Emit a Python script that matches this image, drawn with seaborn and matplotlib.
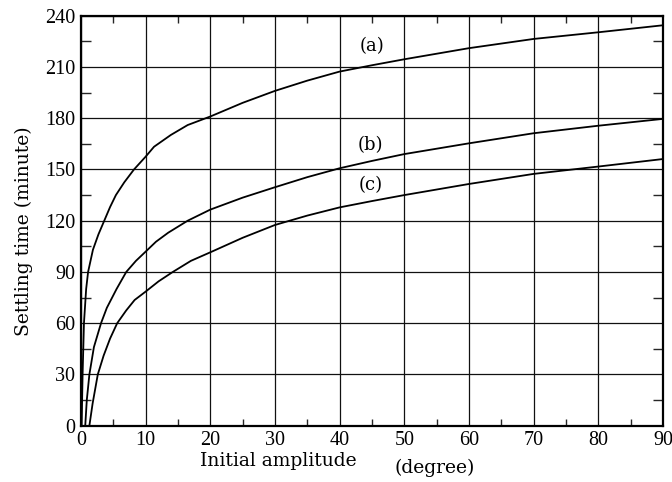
import pandas as pd
import seaborn as sns
import matplotlib.pyplot as plt
from matplotlib.ticker import MultipleLocator

# curve (a)
a_x = [0.1, 0.25, 0.46, 0.8, 1.1, 1.85, 2.7, 3.6, 4.5, 5.4, 6.7, 8.2, 10,
       11.3, 13.9, 16.5, 20, 25, 30, 35, 40, 45, 50, 60, 70, 80, 90]
a_y = [0, 30, 60, 80, 90, 103, 112, 120, 128, 135, 142.5, 150, 157.5,
       163.3, 170.2, 176, 181, 189, 196, 202, 207.3, 211, 214.5, 221, 226.4,
       230.3, 234.4]
# curve (b)
b_x = [0.66, 0.9, 1.3, 2, 3.1, 4, 5.5, 7, 8.5, 10, 11.6, 13.5, 16.5, 20, 25,
       30, 35, 40, 45, 50, 60, 70, 80, 90]
b_y = [0, 15, 30, 46, 60, 69, 80, 90, 96.5, 101.9, 107.7, 113, 120, 126.5,
       133.5, 139.6, 145.5, 150.7, 155, 159, 165.3, 171.2, 175.6, 179.6]
# curve (c)
c_x = [1.3, 1.8, 2.6, 3.5, 4.5, 5.6, 7, 8.3, 10, 12, 14.2, 17, 20, 25, 30,
       35, 40, 45, 50, 60, 70, 80, 90]
c_y = [0, 13, 30, 41, 51, 60, 67.5, 73.6, 78.5, 84.5, 90, 96.5, 101.5, 110,
       117.5, 123, 127.8, 131.5, 135, 141.5, 147.4, 151.7, 156.1]

curve_names = ["(a)", "(b)", "(c)"]
label_pos = [(45, 222), (44.7, 164), (44.8, 141)]

df = pd.concat([
    pd.DataFrame({"amp": a_x, "time": a_y, "curve": "(a)"}),
    pd.DataFrame({"amp": b_x, "time": b_y, "curve": "(b)"}),
    pd.DataFrame({"amp": c_x, "time": c_y, "curve": "(c)"}),
])

sns.set_theme(style="ticks")
plt.rcParams["font.family"] = ["Liberation Serif", "DejaVu Serif"]
plt.rcParams["text.color"] = "black"

fig = plt.figure(figsize=(6.72, 4.82), dpi=100)
ax = fig.add_axes([0.1205, 0.1168, 0.866, 0.8506])

for name in curve_names:
    sub = df[df["curve"] == name]
    sns.lineplot(data=sub, x="amp", y="time", ax=ax, color="black",
                 linewidth=1.3, sort=False, estimator=None)

for name, (lx, ly) in zip(curve_names, label_pos):
    ax.text(lx, ly, name, ha="center", va="center", fontsize=13,
            family="DejaVu Serif", color="black")

ax.set_xlim(0, 90)
ax.set_ylim(0, 240)
ax.xaxis.set_major_locator(MultipleLocator(10))
ax.yaxis.set_major_locator(MultipleLocator(30))
ax.xaxis.set_minor_locator(MultipleLocator(5))
ax.yaxis.set_minor_locator(MultipleLocator(15))
ax.grid(True, which="major", color="#111111", linewidth=0.9)
ax.tick_params(which="major", length=0, pad=4, labelsize=14.5, colors="black")
ax.tick_params(axis="x", which="minor", direction="in", length=5, width=1,
               top=True, bottom=True)
ax.tick_params(axis="y", which="minor", direction="in", length=7, width=1,
               left=True, right=True)
for s in ax.spines.values():
    s.set_linewidth(1.6)
    s.set_color("black")

ax.set_xlabel("")
ax.set_ylabel("")
fig.text(24 / 672, 1 - 231 / 482, "Settling time (minute)", rotation=90,
         ha="center", va="center", fontsize=13.5, family="DejaVu Serif",
         color="black")
fig.text(200 / 672, 1 - 461 / 482, "Initial amplitude", ha="left",
         va="center", fontsize=13.5, family="DejaVu Serif", color="black")
fig.text(395 / 672, 1 - 468 / 482, "(degree)", ha="left", va="center",
         fontsize=13.5, family="DejaVu Serif", color="black")

plt.savefig("out.png", dpi=100)
plt.close()
